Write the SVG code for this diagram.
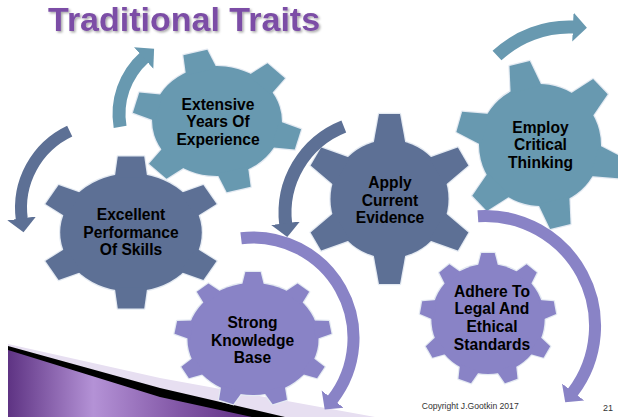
<svg xmlns="http://www.w3.org/2000/svg" width="618" height="417" viewBox="0 0 618 417">
<style>
.ol{stroke:#e4eaf2;stroke-width:2.4;stroke-linejoin:round}
.gf{stroke:none}
.slate{fill:#5D7095}
.teal{fill:#6899B0}
.lav{fill:#8983C6}
.lbl{font-family:"Liberation Sans",Arial,Helvetica,sans-serif;font-weight:bold;font-size:15.6px;fill:#000;text-anchor:middle}
.arc{fill:none;stroke-linecap:butt}
.small{font-family:"Liberation Sans",Arial,Helvetica,sans-serif;fill:#333}
</style>
<defs>
<linearGradient id="pg" x1="0" y1="0" x2="1" y2="0" gradientUnits="objectBoundingBox">
<stop offset="0" stop-color="#5E3383"/>
<stop offset="0.35" stop-color="#B492D6"/>
<stop offset="0.7" stop-color="#8257A6"/>
<stop offset="1" stop-color="#603083"/>
</linearGradient>
<filter id="sh" x="-5%" y="-20%" width="110%" height="150%">
<feDropShadow dx="1.5" dy="1.5" stdDeviation="0.8" flood-color="#000" flood-opacity="0.35"/>
</filter>
<marker id="mTeal" viewBox="-1 -15 15 30" markerWidth="15" markerHeight="30" refX="0" refY="0" orient="auto" markerUnits="userSpaceOnUse"><path d="M-1,-14.5 L13,0 L-1,14.5 z" fill="#6899B0"/></marker>
<marker id="mSlate" viewBox="-1 -15 15 30" markerWidth="15" markerHeight="30" refX="0" refY="0" orient="auto" markerUnits="userSpaceOnUse"><path d="M-1,-14.5 L13,0 L-1,14.5 z" fill="#5D7095"/></marker>
<marker id="mLav" viewBox="-1 -15 15 30" markerWidth="15" markerHeight="30" refX="0" refY="0" orient="auto" markerUnits="userSpaceOnUse"><path d="M-1,-14 L12,0 L-1,14 z" fill="#8983C6"/></marker>

<g id="gear1">
<circle r="59" vector-effect="non-scaling-stroke"/>
<polygon id="t1" points="-13.5,-55 -11,-76 11,-76 13.5,-55" vector-effect="non-scaling-stroke"/>
<use href="#t1" transform="rotate(60)"/><use href="#t1" transform="rotate(120)"/><use href="#t1" transform="rotate(180)"/><use href="#t1" transform="rotate(240)"/><use href="#t1" transform="rotate(300)"/>
</g>
<g id="gear2">
<circle r="55" vector-effect="non-scaling-stroke"/>
<polygon id="t2" points="-13.5,-51 -10.5,-71 10.5,-71 13.5,-51" vector-effect="non-scaling-stroke"/>
<use href="#t2" transform="rotate(60)"/><use href="#t2" transform="rotate(120)"/><use href="#t2" transform="rotate(180)"/><use href="#t2" transform="rotate(240)"/><use href="#t2" transform="rotate(300)"/>
</g>
<g id="gear3">
<circle r="59"/>
<polygon id="t3" points="-16,-55 -10.5,-85 10.5,-85 16,-55"/>
<use href="#t3" transform="rotate(60)"/><use href="#t3" transform="rotate(120)"/><use href="#t3" transform="rotate(180)"/><use href="#t3" transform="rotate(240)"/><use href="#t3" transform="rotate(300)"/>
</g>
<g id="gear4">
<circle r="61"/>
<polygon id="t4" points="-16,-57 -10.5,-84 10.5,-84 16,-57"/>
<use href="#t4" transform="rotate(60)"/><use href="#t4" transform="rotate(120)"/><use href="#t4" transform="rotate(180)"/><use href="#t4" transform="rotate(240)"/><use href="#t4" transform="rotate(300)"/>
</g>
<g id="gear5">
<circle r="56" vector-effect="non-scaling-stroke"/>
<polygon id="t5" points="-9.5,-53 -6.5,-67 6.5,-67 9.5,-53" vector-effect="non-scaling-stroke"/>
<use href="#t5" transform="rotate(40)"/><use href="#t5" transform="rotate(80)"/><use href="#t5" transform="rotate(120)"/><use href="#t5" transform="rotate(160)"/><use href="#t5" transform="rotate(200)"/><use href="#t5" transform="rotate(240)"/><use href="#t5" transform="rotate(280)"/><use href="#t5" transform="rotate(320)"/>
</g>
<g id="gear6">
<circle r="55"/>
<polygon id="t6" points="-10,-52 -6.5,-66 6.5,-66 10,-52"/>
<use href="#t6" transform="rotate(40)"/><use href="#t6" transform="rotate(80)"/><use href="#t6" transform="rotate(120)"/><use href="#t6" transform="rotate(160)"/><use href="#t6" transform="rotate(200)"/><use href="#t6" transform="rotate(240)"/><use href="#t6" transform="rotate(280)"/><use href="#t6" transform="rotate(320)"/>
</g>
</defs>

<rect width="618" height="417" fill="#fff"/>

<g id="decoration">
<polygon points="8,344 160,378 375,417 8,417" fill="#E7DFF1"/>
<polygon points="8,346 160,388 285,417 8,417" fill="#000"/>
<polygon points="8,350 160,397 252,417 8,417" fill="url(#pg)"/>
</g>

<text x="48" y="30.5" font-family="'Liberation Sans',Arial,Helvetica,sans-serif" font-weight="bold" font-size="34" fill="#7B4EA6" filter="url(#sh)">Traditional Traits</text>

<g id="node-excellent">
<g transform="translate(131,232.5) scale(1.2,1)">
<use href="#gear1" class="ol slate"/><use href="#gear1" class="gf slate"/>
</g>
<text class="lbl" x="131" y="220">Excellent<tspan x="131" dy="17.6">Performance</tspan><tspan x="131" dy="17.6">Of Skills</tspan></text>
</g>

<g id="node-extensive">
<g transform="translate(217,121) scale(1.18,1) rotate(-15)">
<use href="#gear2" class="ol teal"/><use href="#gear2" class="gf teal"/>
</g>
<text class="lbl" x="218" y="109.5">Extensive<tspan x="218" dy="17.6">Years Of</tspan><tspan x="218" dy="17.6">Experience</tspan></text>
</g>

<g id="node-apply">
<g transform="translate(389.5,199)">
<use href="#gear3" class="ol slate"/><use href="#gear3" class="gf slate"/>
</g>
<text class="lbl" x="390" y="188">Apply<tspan x="390" dy="17.6">Current</tspan><tspan x="390" dy="17.6">Evidence</tspan></text>
</g>

<g id="node-employ">
<g transform="translate(540,145) rotate(-14)">
<use href="#gear4" class="ol teal"/><use href="#gear4" class="gf teal"/>
</g>
<text class="lbl" x="540.5" y="132.5">Employ<tspan x="540.5" dy="17.6">Critical</tspan><tspan x="540.5" dy="17.6">Thinking</tspan></text>
</g>

<g id="node-strong">
<g transform="translate(253,339) scale(1.17,1)">
<use href="#gear5" class="ol lav"/><use href="#gear5" class="gf lav"/>
</g>
<text class="lbl" x="252.5" y="328">Strong<tspan x="252.5" dy="17.6">Knowledge</tspan><tspan x="252.5" dy="17.6">Base</tspan></text>
</g>

<g id="node-adhere">
<g transform="translate(488,319) scale(1.03,1)">
<use href="#gear6" class="ol lav"/><use href="#gear6" class="gf lav"/>
</g>
<text class="lbl" x="492" y="296.5">Adhere To<tspan x="492" dy="17.8">Legal And</tspan><tspan x="492" dy="17.8">Ethical</tspan><tspan x="492" dy="17.8">Standards</tspan></text>
</g>

<g id="connectors">
<path class="arc" d="M120.1,126.8 A76,76 0 0 1 144.4,57.3" stroke="#6899B0" stroke-width="13" marker-end="url(#mTeal)"/>
<path class="arc" d="M69.7,131.2 A85,85 0 0 0 21.8,219.4" stroke="#5D7095" stroke-width="12" marker-end="url(#mSlate)"/>
<path class="arc" d="M343.8,126.5 A93,93 0 0 0 285.7,224.2" stroke="#5D7095" stroke-width="13" marker-end="url(#mSlate)"/>
<path class="arc" d="M497,55.6 A105,105 0 0 1 573.9,27.1" stroke="#6899B0" stroke-width="13" marker-end="url(#mTeal)"/>
<path class="arc" d="M241.1,238.2 A100.5,100.5 0 0 1 332.1,400" stroke="#8983C6" stroke-width="12" marker-end="url(#mLav)"/>
<path class="arc" d="M477.9,216.2 A110,110 0 0 1 572.5,392.7" stroke="#8983C6" stroke-width="12" marker-end="url(#mLav)"/>
</g>

<text class="small" x="421.7" y="408.5" font-size="8.6">Copyright J.Gootkin 2017</text>
<text class="small" x="603" y="410.5" font-size="9">21</text>
</svg>
